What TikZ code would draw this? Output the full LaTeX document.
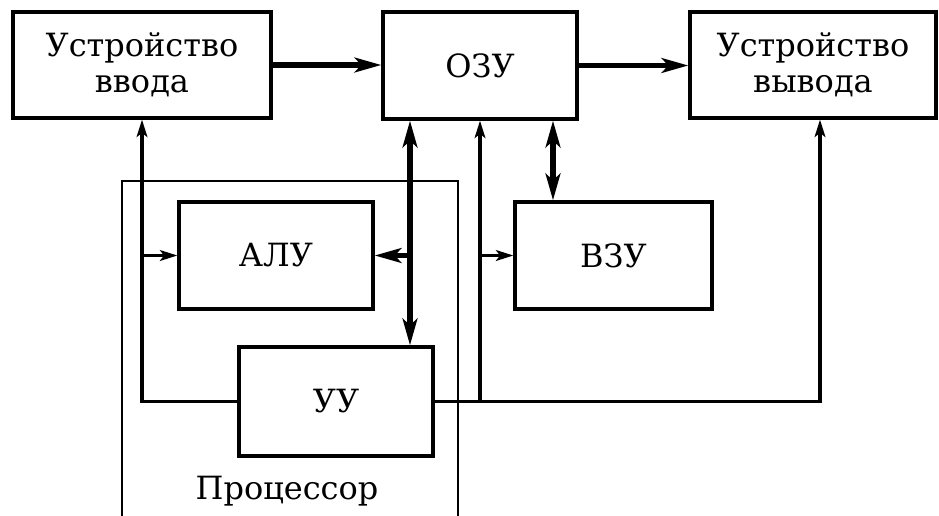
\documentclass[tikz,border=0pt]{standalone}
\usepackage{fontspec}
\setmainfont{DejaVu Serif}
\usetikzlibrary{arrows.meta}

\begin{document}
\begin{tikzpicture}[
  x=0.75pt, y=-0.75pt,
  font=\fontsize{24}{27}\selectfont,
  unit/.style={rectangle, draw, line width=2.4pt, inner sep=0pt, align=center},
  bus/.style={-{Stealth[length=20pt, width=11pt, inset=5pt]}, line width=3.8pt},
  dbus/.style={{Stealth[length=20pt, width=11pt, inset=5pt]}-{Stealth[length=20pt, width=11pt, inset=5pt]}, line width=3.8pt},
  ctrl/.style={-{Stealth[length=13pt, width=8pt, inset=3pt]}, line width=2.4pt},
  frame/.style={line width=2.2pt}
]
  \useasboundingbox (0,0) rectangle (939,515);

  % The processor frame runs off the bottom edge.
  \draw[frame] (122,540) -- (122,181) -- (458,181) -- (458,540);
  \node (cpulabel) at (287,491) {Процессор};

  \node[unit, minimum width=193.5pt, minimum height=79.5pt] (input) at (142,65) {Устройство\\ввода};
  \node[unit, minimum width=145.5pt, minimum height=80.25pt] (ram) at (480,65.5) {ОЗУ};
  \node[unit, minimum width=184.5pt, minimum height=79.5pt] (output) at (813,65) {Устройство\\вывода};
  \node[unit, minimum width=145.5pt, minimum height=80.25pt] (alu) at (276,255.5) {АЛУ};
  \node[unit, minimum width=147.75pt, minimum height=80.25pt] (vzu) at (613.5,255.5) {ВЗУ};
  \node[unit, minimum width=145.5pt, minimum height=81.75pt] (cu) at (336,401.5) {УУ};

  % Data buses.
  \draw[bus] (input.east) -- (input.east -| ram.west);
  \draw[bus] (ram.east) -- (ram.east -| output.west);
  \coordinate (alutap) at (410,255.5);
  \coordinate (vzutap) at (553,0);
  \draw[dbus] (ram.south -| alutap) -- (cu.north -| alutap);
  \draw[bus] (alutap) -- (alu.east);
  \draw[dbus] (ram.south -| vzutap) -- (vzu.north -| vzutap);

  % Control lines from the control unit.
  \coordinate (cuwest) at (142,401.5);
  \coordinate (cueast) at (820,401.5);
  \draw[ctrl] (cu.west) -- (cuwest) -- (input.south);
  \draw[ctrl] (cuwest |- alu.west) -- (alu.west);
  \draw[ctrl] (cu.east) -- (cueast) -- (cueast |- output.south);
  \draw[ctrl] (ram.south |- cu.east) -- (ram.south);
  \draw[ctrl] (ram.south |- vzu.west) -- (vzu.west);
\end{tikzpicture}
\end{document}
